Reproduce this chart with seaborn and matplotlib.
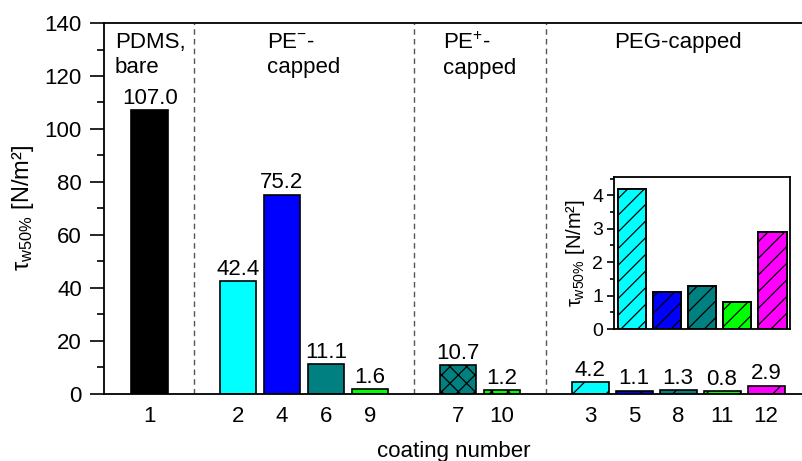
import matplotlib
matplotlib.use("Agg")
import matplotlib.pyplot as plt
from matplotlib.ticker import MultipleLocator
import seaborn as sns
import pandas as pd

# coating groups and the coatings measured in each
group_names = ["PDMS,\nbare", "PE$^{-}$-\ncapped", "PE$^{+}$-\ncapped", "PEG-capped"]
group_coatings = [["1"], ["2", "4", "6", "9"], ["7", "10"], ["3", "5", "8", "11", "12"]]

# wall shear stress at 50 % removal, per coating
coatings = ["1", "2", "4", "6", "9", "7", "10", "3", "5", "8", "11", "12"]
tau_w50 = [107.0, 42.4, 75.2, 11.1, 1.6, 10.7, 1.2, 4.2, 1.1, 1.3, 0.8, 2.9]

bar_colors = {
    "1": "#000000", "2": "#00ffff", "4": "#0000ff", "6": "#008080", "9": "#00ff00",
    "7": "#008080", "10": "#00ff00",
    "3": "#00ffff", "5": "#0000ff", "8": "#008080", "11": "#00ff00", "12": "#ff00ff",
}
bar_hatches = {
    "1": "", "2": "", "4": "", "6": "", "9": "",
    "7": "xx", "10": "xx",
    "3": "/", "5": "/", "8": "/", "11": "/", "12": "/",
}

sns.set_style("ticks")
plt.rcParams["font.family"] = ["Liberation Sans", "DejaVu Sans"]
plt.rcParams["mathtext.fontset"] = "custom"
plt.rcParams["mathtext.rm"] = "Liberation Sans"
plt.rcParams["mathtext.it"] = "Liberation Sans"
plt.rcParams["mathtext.bf"] = "Liberation Sans:bold"
plt.rcParams["hatch.linewidth"] = 0.9
plt.rcParams["axes.linewidth"] = 1.3
for key in ["text.color", "axes.labelcolor", "xtick.color", "ytick.color", "axes.edgecolor"]:
    plt.rcParams[key] = "black"

df = pd.DataFrame({"coating": coatings, "tau": tau_w50})

# category order with one empty slot between groups
order = []
for i, grp in enumerate(group_coatings):
    if i:
        order.append(" " * i)
    order += grp

fig = plt.figure(figsize=(8.03, 4.61), dpi=100)
ax = fig.add_axes([0.1295, 0.1464, 0.8705, 0.8036])

sns.barplot(data=df, x="coating", y="tau", hue="coating", order=order,
            hue_order=coatings, palette=bar_colors, legend=False, errorbar=None,
            saturation=1, width=0.84, edgecolor="black", linewidth=1.2, ax=ax)

for cont in ax.containers:
    for p in cont:
        c = order[int(round(p.get_x() + p.get_width() / 2))]
        p.set_hatch(bar_hatches[c])
    ax.bar_label(cont, fmt="%.1f", padding=1, fontsize=16)

ax.set_xlim(-1.045, 14.84)
ax.set_ylim(0, 140)
ax.yaxis.set_major_locator(MultipleLocator(20))
ax.yaxis.set_minor_locator(MultipleLocator(10))
ax.tick_params(axis="y", which="major", length=10, width=1.2, labelsize=16, pad=6)
ax.tick_params(axis="y", which="minor", length=5, width=1.2)
ax.tick_params(axis="x", length=0, labelsize=16, pad=9)
ax.spines["right"].set_visible(False)

# group separators and group titles
for i in range(1, len(group_coatings)):
    ax.axvline(order.index(" " * i), color="#555555", lw=1.0, ls=(0, (4, 3)))
for name, grp in zip(group_names, group_coatings):
    xc = sum(order.index(c) for c in grp) / len(grp)
    ax.text(xc, 136.5, name, ha="center", va="top", multialignment="left",
            fontsize=16, linespacing=1.25)

ax.set_xlabel("coating number", fontsize=16, labelpad=10)
ax.set_ylabel(r"$\tau_{\mathrm{w50\%}}$ [N/m²]", fontsize=17, labelpad=6)

# inset: PEG-capped coatings on a finer scale
peg = group_coatings[-1]
df_peg = df[df["coating"].isin(peg)]
ax_in = fig.add_axes([0.765, 0.2863, 0.219, 0.330])
sns.barplot(data=df_peg, x="coating", y="tau", hue="coating", order=peg,
            hue_order=peg, palette=bar_colors, legend=False, errorbar=None,
            saturation=1, width=0.8, edgecolor="black", linewidth=1.4, ax=ax_in)
for p in ax_in.patches:
    p.set_hatch("//")
ax_in.set_ylim(0, 4.55)
ax_in.yaxis.set_major_locator(MultipleLocator(1))
ax_in.yaxis.set_minor_locator(MultipleLocator(0.5))
ax_in.tick_params(axis="y", which="major", length=5, width=1.2, labelsize=14, pad=3)
ax_in.tick_params(axis="y", which="minor", length=3, width=1.2)
ax_in.set_xticks([])
ax_in.set_xlabel("")
ax_in.set_ylabel(r"$\tau_{\mathrm{w50\%}}$ [N/m²]", fontsize=14.5, labelpad=4)
for s in ax_in.spines.values():
    s.set_visible(True)
    s.set_linewidth(1.3)

fig.savefig("out.png", dpi=100)
